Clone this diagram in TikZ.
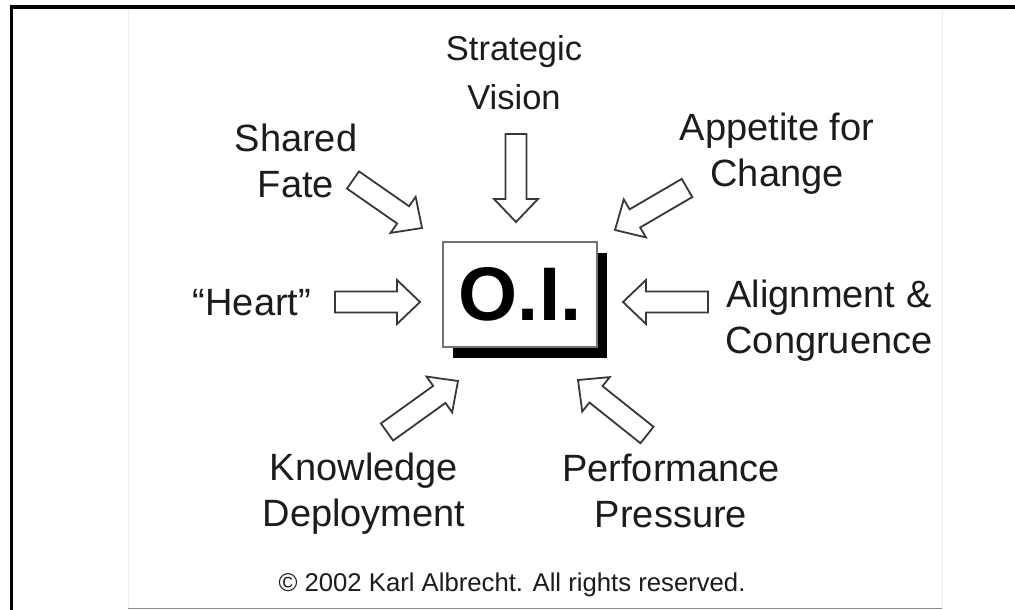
\documentclass[tikz,border=0pt]{standalone}
\usepackage{fontspec}
\setmainfont{Liberation Sans}
\usetikzlibrary{calc,shadows}

\definecolor{ink}{HTML}{1C1C1C}
\definecolor{arrowink}{HTML}{383838}

\begin{document}
\begin{tikzpicture}[x=1pt,y=-1pt,
  lbl/.style={align=center, text=ink, inner sep=0pt, text depth=0pt,
    font=\fontsize{38}{46}\selectfont},
  % hollow block arrow drawn from the start coordinate to the target coordinate
  blockarrow/.style={draw=arrowink, fill=white, line width=1.8pt, line join=miter,
    to path={
      ($(\tikztostart)!10.5pt!90:(\tikztotarget)$)
      -- ($(\tikztotarget)!25.284pt!-24.54:(\tikztostart)$)
      -- ($(\tikztotarget)!31.828pt!-43.73:(\tikztostart)$)
      -- (\tikztotarget)
      -- ($(\tikztotarget)!31.828pt!43.73:(\tikztostart)$)
      -- ($(\tikztotarget)!25.284pt!24.54:(\tikztostart)$)
      -- ($(\tikztostart)!10.5pt!-90:(\tikztotarget)$)
      -- cycle}},
  hub/.style={draw=black!55, line width=1.3pt, fill=white, minimum width=154pt,
    minimum height=105pt, inner sep=0pt,
    drop shadow={shadow xshift=10pt, shadow yshift=-11pt, fill=black, opacity=1},
    font=\fontsize{76}{80}\selectfont\bfseries, text=black},
]
\useasboundingbox (0,0) rectangle (1015,610);
\fill[white] (0,0) rectangle (1015,610);

% outer frame (open to the right and bottom)
\draw[line width=3.8pt, line join=miter] (11.5,610) -- (11.5,7) -- (1015,7);

% slide panel edges
\draw[black!7, line width=0.8pt] (128,9) -- (128,608) (942,9) -- (942,608);
\draw[black!45, line width=1.2pt] (128,608.8) -- (942,608.8);

% central box
\node[hub] (oi) at (520,294.5) {O.I.};

% factor labels
\node[lbl, font=\fontsize{34.5}{49}\selectfont] (vision) at (514,72.5) {Strategic\\Vision};
\node[lbl] (fate) at (296,160.5) {Shared\\Fate};
\node[lbl] (change) at (777,150) {Appetite for\\Change};
\node[lbl] (heart) at (252,302) {“Heart”};
\node[lbl] (align) at (829,317) {Alignment \&\\Congruence};
\node[lbl] (know) at (364,490) {Knowledge\\Deployment};
\node[lbl] (perf) at (671,491) {Performance\\Pressure};

\node[text=ink, inner sep=0pt, font=\fontsize{25.7}{30}\selectfont] (copy) at (512,585)
  {© 2002 Karl Albrecht. All rights reserved.};

% arrow ends
\coordinate (visionT) at (516,134);   \coordinate (visionH) at (516,222);
\coordinate (fateT) at (353,180);     \coordinate (fateH) at (422,228);
\coordinate (changeT) at (687,188);   \coordinate (changeH) at (615,230);
\coordinate (heartT) at (335,302);    \coordinate (heartH) at (420,302);
\coordinate (alignT) at (708,302);    \coordinate (alignH) at (623,302);
\coordinate (knowT) at (387,432);     \coordinate (knowH) at (458,381);
\coordinate (perfT) at (647,435);     \coordinate (perfH) at (578,380);

\foreach \a in {vision,fate,change,heart,align,know,perf}
  \draw[blockarrow] (\a T) to (\a H);
\end{tikzpicture}
\end{document}
